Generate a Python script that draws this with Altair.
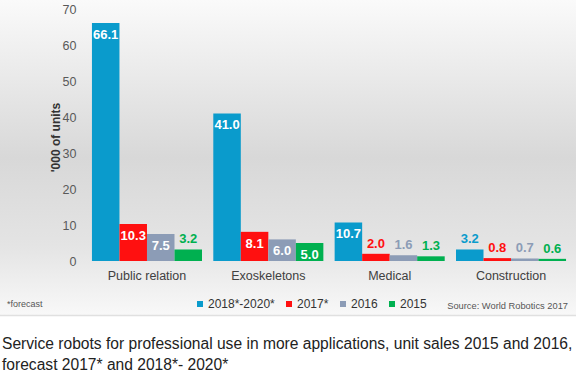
import altair as alt
import pandas as pd

categories = ["Public relation", "Exoskeletons", "Medical", "Construction"]
series = ["2018*-2020*", "2017*", "2016", "2015"]
colors = ["#0a9bcc", "#ff1010", "#8c9cb6", "#00b050"]
v_2018_2020 = [66.1, 41.0, 10.7, 3.2]
v_2017 = [10.3, 8.1, 2.0, 0.8]
v_2016 = [7.5, 6.0, 1.6, 0.7]
v_2015 = [3.2, 5.0, 1.3, 0.6]
y_ticks = [0, 10, 20, 30, 40, 50, 60, 70]
caption1 = "Service robots for professional use in more applications, unit sales 2015 and 2016,"
caption2 = "forecast 2017* and 2018*- 2020*"
footnote = "*forecast"
source = "Source: World Robotics 2017"

rows = []
for s, vals in zip(series, [v_2018_2020, v_2017, v_2016, v_2015]):
    for c, v in zip(categories, vals):
        rows.append({"category": c, "series": s, "value": v, "label": f"{v:.1f}"})
df = pd.DataFrame(rows)

FONT = "Liberation Sans"
one = pd.DataFrame({"a": [0]})

bg = alt.Chart(one).mark_rect(
    fill=alt.LinearGradient(
        gradient="linear", x1=0, x2=0, y1=0, y2=1,
        stops=[
            alt.GradientStop(offset=0, color="#fafafa"),
            alt.GradientStop(offset=0.5, color="#d8d8d8"),
            alt.GradientStop(offset=0.78, color="#e4e4e4"),
            alt.GradientStop(offset=1, color="#f8f8f8"),
        ],
    )
).encode(x=alt.value(-82), x2=alt.value(494), y=alt.value(-9), y2=alt.value(306))

sep = alt.Chart(one).mark_rule(color="#e0e0e0", strokeWidth=1.5).encode(
    x=alt.value(-82), x2=alt.value(494), y=alt.value(306.5)
)

xenc = alt.X("category:N", sort=categories,
             scale=alt.Scale(paddingInner=0.093, paddingOuter=0.082),
             axis=alt.Axis(title=None, labelAngle=0, ticks=False, domain=False, zindex=2,
                           labelPadding=8, labelFontSize=12.5, labelColor="#404040",
                           labelFont=FONT))
yenc = alt.Y("value:Q", scale=alt.Scale(domain=[0, 70], nice=False),
             axis=alt.Axis(values=y_ticks, grid=False, ticks=False, domain=False, zindex=2,
                           labelPadding=6, labelFontSize=12.5, labelColor="#595959",
                           labelFont=FONT, title="'000 of units", titleFont=FONT,
                           titleFontSize=12, titleFontWeight="bold", titleColor="#333333",
                           titleAngle=-90, titleX=-27, titleY=128,
                           titleAlign="center", titleBaseline="middle"))
xoff = alt.XOffset("series:N", sort=series, scale=alt.Scale(paddingInner=0, paddingOuter=0))
cscale = alt.Scale(domain=series, range=colors)

bars = alt.Chart(df).mark_bar().encode(
    x=xenc, y=yenc, xOffset=xoff,
    color=alt.Color("series:N", scale=cscale, sort=series,
                    legend=alt.Legend(title=None, orient="none", direction="horizontal",
                                      legendX=112, legendY=289, symbolType="square",
                                      symbolSize=36, symbolStrokeWidth=0, zindex=2,
                                      labelFontSize=12, labelColor="#333333",
                                      labelFont=FONT, columnPadding=8, labelOffset=2)),
)

inside = alt.Chart(df).transform_filter("datum.value >= 4").mark_text(
    color="white", fontWeight="bold", fontSize=13, font=FONT, dy=12, baseline="middle"
).encode(x=xenc, y=yenc, xOffset=xoff, text="label:N")

outside = alt.Chart(df).transform_filter("datum.value < 4").mark_text(
    fontWeight="bold", fontSize=13, font=FONT, dy=-10, baseline="middle"
).encode(x=xenc, y=yenc, xOffset=xoff, text="label:N",
         color=alt.Color("series:N", scale=cscale, legend=None))

fn = alt.Chart(pd.DataFrame({"t": [footnote]})).mark_text(
    align="left", baseline="middle", fontSize=9, color="#555555", font=FONT
).encode(x=alt.value(-75), y=alt.value(295), text="t:N")

src = alt.Chart(pd.DataFrame({"t": [source]})).mark_text(
    align="right", baseline="middle", fontSize=9.3, color="#555555", font=FONT
).encode(x=alt.value(486), y=alt.value(297), text="t:N")

cap1 = alt.Chart(pd.DataFrame({"t": [caption1]})).mark_text(
    align="left", baseline="middle", fontSize=15.6, color="#222222", font=FONT
).encode(x=alt.value(-80), y=alt.value(335), text="t:N")

cap2 = alt.Chart(pd.DataFrame({"t": [caption2]})).mark_text(
    align="left", baseline="middle", fontSize=15.6, color="#222222", font=FONT
).encode(x=alt.value(-80), y=alt.value(356), text="t:N")

chart = alt.layer(bg, sep, bars, inside, outside, fn, src, cap1, cap2).properties(
    width=494, height=252,
    autosize=alt.AutoSizeParams(type="none"),
    padding={"left": 82, "top": 9, "right": 0, "bottom": 114},
).configure_view(stroke=None).configure(background="white")

chart.save("out.html", embed_options={"renderer": "svg", "actions": False})
